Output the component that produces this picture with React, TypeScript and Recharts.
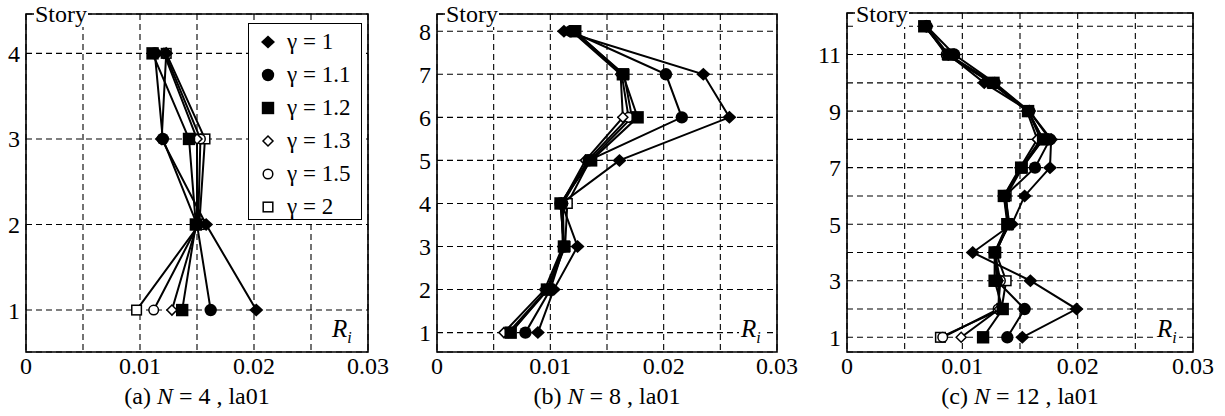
import React from "react";
import {
  ScatterChart,
  Scatter,
  XAxis,
  YAxis,
  CartesianGrid,
  ReferenceArea,
} from "recharts";

// gamma values and their marker styles
const gammas = ["1", "1.1", "1.2", "1.3", "1.5", "2"];
const markerKinds = ["diamond", "circle", "square", "openDiamond", "openCircle", "openSquare"];
const xTicks = [0, 0.005, 0.01, 0.015, 0.02, 0.025, 0.03];

// (a) N = 4
const storiesA = [1, 2, 3, 4];
const aG1 = [0.0202, 0.0158, 0.0119, 0.0123];
const aG11 = [0.0162, 0.015, 0.012, 0.0113];
const aG12 = [0.0137, 0.0149, 0.0143, 0.0111];
const aG13 = [0.0128, 0.015, 0.015, 0.0121];
const aG15 = [0.0112, 0.0151, 0.0153, 0.0122];
const aG2 = [0.0097, 0.0152, 0.0157, 0.0123];

// (b) N = 8
const storiesB = [1, 2, 3, 4, 5, 6, 7, 8];
const bG1 = [0.0089, 0.0103, 0.0124, 0.011, 0.0161, 0.0258, 0.0235, 0.0112];
const bG11 = [0.0078, 0.01, 0.0112, 0.0109, 0.0134, 0.0216, 0.0202, 0.0118];
const bG12 = [0.0065, 0.0097, 0.0112, 0.0109, 0.0136, 0.0177, 0.0164, 0.0122];
const bG13 = [0.0059, 0.0095, 0.0111, 0.011, 0.0131, 0.0164, 0.0162, 0.0119];
const bG15 = [0.0063, 0.0097, 0.0112, 0.0111, 0.0133, 0.0169, 0.0163, 0.012];
const bG2 = [0.0065, 0.0098, 0.0113, 0.0115, 0.0135, 0.0172, 0.0165, 0.0121];

// (c) N = 12
const storiesC = [1, 2, 3, 4, 5, 6, 7, 8, 9, 10, 11, 12];
const cG1 = [0.0152, 0.0199, 0.0159, 0.0109, 0.0143, 0.0154, 0.0176, 0.0177, 0.0158, 0.0119, 0.0088, 0.0069];
const cG11 = [0.0139, 0.0154, 0.013, 0.0128, 0.0141, 0.0137, 0.0163, 0.0176, 0.0158, 0.0128, 0.0093, 0.0069];
const cG12 = [0.0118, 0.0135, 0.0128, 0.0128, 0.0139, 0.0136, 0.0151, 0.017, 0.0157, 0.0127, 0.0088, 0.0067];
const cG13 = [0.0099, 0.0132, 0.0131, 0.0129, 0.014, 0.0136, 0.015, 0.0165, 0.0156, 0.0126, 0.0087, 0.0068];
const cG15 = [0.0083, 0.0131, 0.0133, 0.0128, 0.014, 0.0137, 0.0151, 0.0168, 0.0157, 0.0125, 0.0086, 0.0068];
const cG2 = [0.0081, 0.0134, 0.0138, 0.0129, 0.014, 0.0138, 0.0152, 0.017, 0.0157, 0.0126, 0.0087, 0.0068];

const FONT = "Liberation Serif, serif";

function Marker({ kind, cx, cy }: { kind: string; cx: number; cy: number }) {
  if (cx == null || cy == null) return null;
  switch (kind) {
    case "diamond":
      return <polygon points={`${cx - 7},${cy} ${cx},${cy - 6.5} ${cx + 7},${cy} ${cx},${cy + 6.5}`} fill="#000" />;
    case "circle":
      return <circle cx={cx} cy={cy} r={6.2} fill="#000" />;
    case "square":
      return <rect x={cx - 6.2} y={cy - 6.2} width={12.4} height={12.4} fill="#000" />;
    case "openDiamond":
      return <polygon points={`${cx - 5},${cy} ${cx},${cy - 5} ${cx + 5},${cy} ${cx},${cy + 5}`} fill="#fff" stroke="#000" strokeWidth={1.5} />;
    case "openCircle":
      return <circle cx={cx} cy={cy} r={4.8} fill="#fff" stroke="#000" strokeWidth={1.5} />;
    default:
      return <rect x={cx - 4.8} y={cy - 4.8} width={9.6} height={9.6} fill="#fff" stroke="#000" strokeWidth={1.5} />;
  }
}

function GammaLegend() {
  return (
    <div
      style={{
        position: "absolute",
        left: 248,
        top: 23,
        border: "1.5px solid #000",
        background: "#fff",
        width: 114,
        height: 197,
        boxSizing: "border-box",
        paddingTop: 1,
        fontFamily: FONT,
        fontSize: 23,
      }}
    >
      {gammas.map((g, i) => (
        <div key={g} style={{ display: "flex", alignItems: "center", height: 33 }}>
          <svg width={32} height={16} style={{ flex: "none" }}>
            <Marker kind={markerKinds[i]} cx={19} cy={8} />
          </svg>
          <span style={{ marginLeft: 6, whiteSpace: "nowrap" }}>γ = {g}</span>
        </div>
      ))}
    </div>
  );
}

interface PanelProps {
  left: number;
  stories: number[];
  series: number[][];
  yDomain: [number, number];
  yTicks: number[];
  showTick: (v: number) => boolean;
  yAxisWidth: number;
  plotWidth: number;
  top: number;
  plotHeight: number;
  caption: React.ReactNode;
  legend?: boolean;
}

function Panel(p: PanelProps) {
  const W = 410;
  const H = 416;
  const xAxisHeight = 30;
  const right = W - p.yAxisWidth - p.plotWidth;
  const bottom = H - p.top - p.plotHeight - xAxisHeight;
  const order = [5, 4, 3, 2, 1, 0];
  return (
    <div style={{ position: "absolute", left: p.left, top: 0, width: W, height: H }}>
      <ScatterChart width={W} height={H} margin={{ top: p.top, right, bottom, left: 0 }}>
        <CartesianGrid stroke="#000" strokeWidth={1.1} strokeDasharray="6 4" />
        <XAxis
          type="number"
          dataKey="x"
          domain={[0, 0.03]}
          ticks={xTicks}
          interval={0}
          allowDataOverflow
          height={xAxisHeight}
          axisLine={false}
          tickLine={false}
          tickSize={0}
          tickMargin={5}
          tick={{ fill: "#000", fontSize: 24, fontFamily: FONT }}
          tickFormatter={(v: number) => ([0, 0.01, 0.02, 0.03].includes(v) ? String(v) : "")}
        />
        <YAxis
          type="number"
          dataKey="y"
          domain={p.yDomain}
          ticks={p.yTicks}
          interval={0}
          allowDataOverflow
          width={p.yAxisWidth}
          axisLine={false}
          tickLine={false}
          tickSize={0}
          tickMargin={6}
          tick={{ fill: "#000", fontSize: 24, fontFamily: FONT }}
          tickFormatter={(v: number) => (p.showTick(v) ? String(v) : "")}
        />
        <ReferenceArea
          x1={0}
          x2={0.03}
          y1={p.yDomain[0]}
          y2={p.yDomain[1]}
          fill="none"
          fillOpacity={0}
          stroke="#000"
          strokeWidth={1.6}
          ifOverflow="visible"
        />
        {order.map((i) => (
          <Scatter
            key={gammas[i]}
            name={`γ = ${gammas[i]}`}
            data={p.stories.map((s, k) => ({ x: p.series[i][k], y: s }))}
            line={{ stroke: "#000", strokeWidth: 2 }}
            lineType="joint"
            isAnimationActive={false}
            shape={(sp: any) => <Marker kind={markerKinds[i]} cx={sp.cx} cy={sp.cy} />}
          />
        ))}
      </ScatterChart>
      {p.legend && <GammaLegend />}
      <div
        style={{
          position: "absolute",
          left: p.yAxisWidth + 8,
          top: 1,
          background: "#fff",
          padding: "0 1px",
          fontFamily: FONT,
          fontSize: 24,
          lineHeight: "26px",
        }}
      >
        Story
      </div>
      <div
        style={{
          position: "absolute",
          left: p.yAxisWidth + p.plotWidth - 38,
          top: p.top + p.plotHeight - 36,
          background: "#fff",
          padding: "0 2px",
          fontFamily: FONT,
          fontSize: 25,
          lineHeight: "26px",
        }}
      >
        <i>R</i>
        <sub style={{ fontSize: 16, fontStyle: "italic" }}>i</sub>
      </div>
      <div
        style={{
          position: "absolute",
          left: p.yAxisWidth,
          width: p.plotWidth,
          top: 383,
          textAlign: "center",
          fontFamily: FONT,
          fontSize: 24,
          lineHeight: "26px",
          whiteSpace: "pre",
        }}
      >
        {p.caption}
      </div>
    </div>
  );
}

export default function App() {
  return (
    <div style={{ position: "absolute", left: 0, top: 0, width: 1225, height: 416, background: "#fff" }}>
      <Panel
        left={0}
        stories={storiesA}
        series={[aG1, aG11, aG12, aG13, aG15, aG2]}
        yDomain={[0.51, 4.46]}
        yTicks={[1, 2, 3, 4]}
        showTick={() => true}
        yAxisWidth={26}
        plotWidth={342}
        top={14}
        plotHeight={338}
        legend
        caption={<>(a) <i>N</i> = 4 , la01</>}
      />
      <Panel
        left={410}
        stories={storiesB}
        series={[bG1, bG11, bG12, bG13, bG15, bG2]}
        yDomain={[0.55, 8.4]}
        yTicks={storiesB}
        showTick={() => true}
        yAxisWidth={27}
        plotWidth={340}
        top={14}
        plotHeight={338}
        caption={<>(b) <i>N</i> = 8 , la01</>}
      />
      <Panel
        left={815}
        stories={storiesC}
        series={[cG1, cG11, cG12, cG13, cG15, cG2]}
        yDomain={[0.48, 12.47]}
        yTicks={storiesC}
        showTick={(v) => v % 2 === 1}
        yAxisWidth={32}
        plotWidth={346}
        top={13}
        plotHeight={339}
        caption={<>(c) <i>N</i> = 12 , la01</>}
      />
    </div>
  );
}
